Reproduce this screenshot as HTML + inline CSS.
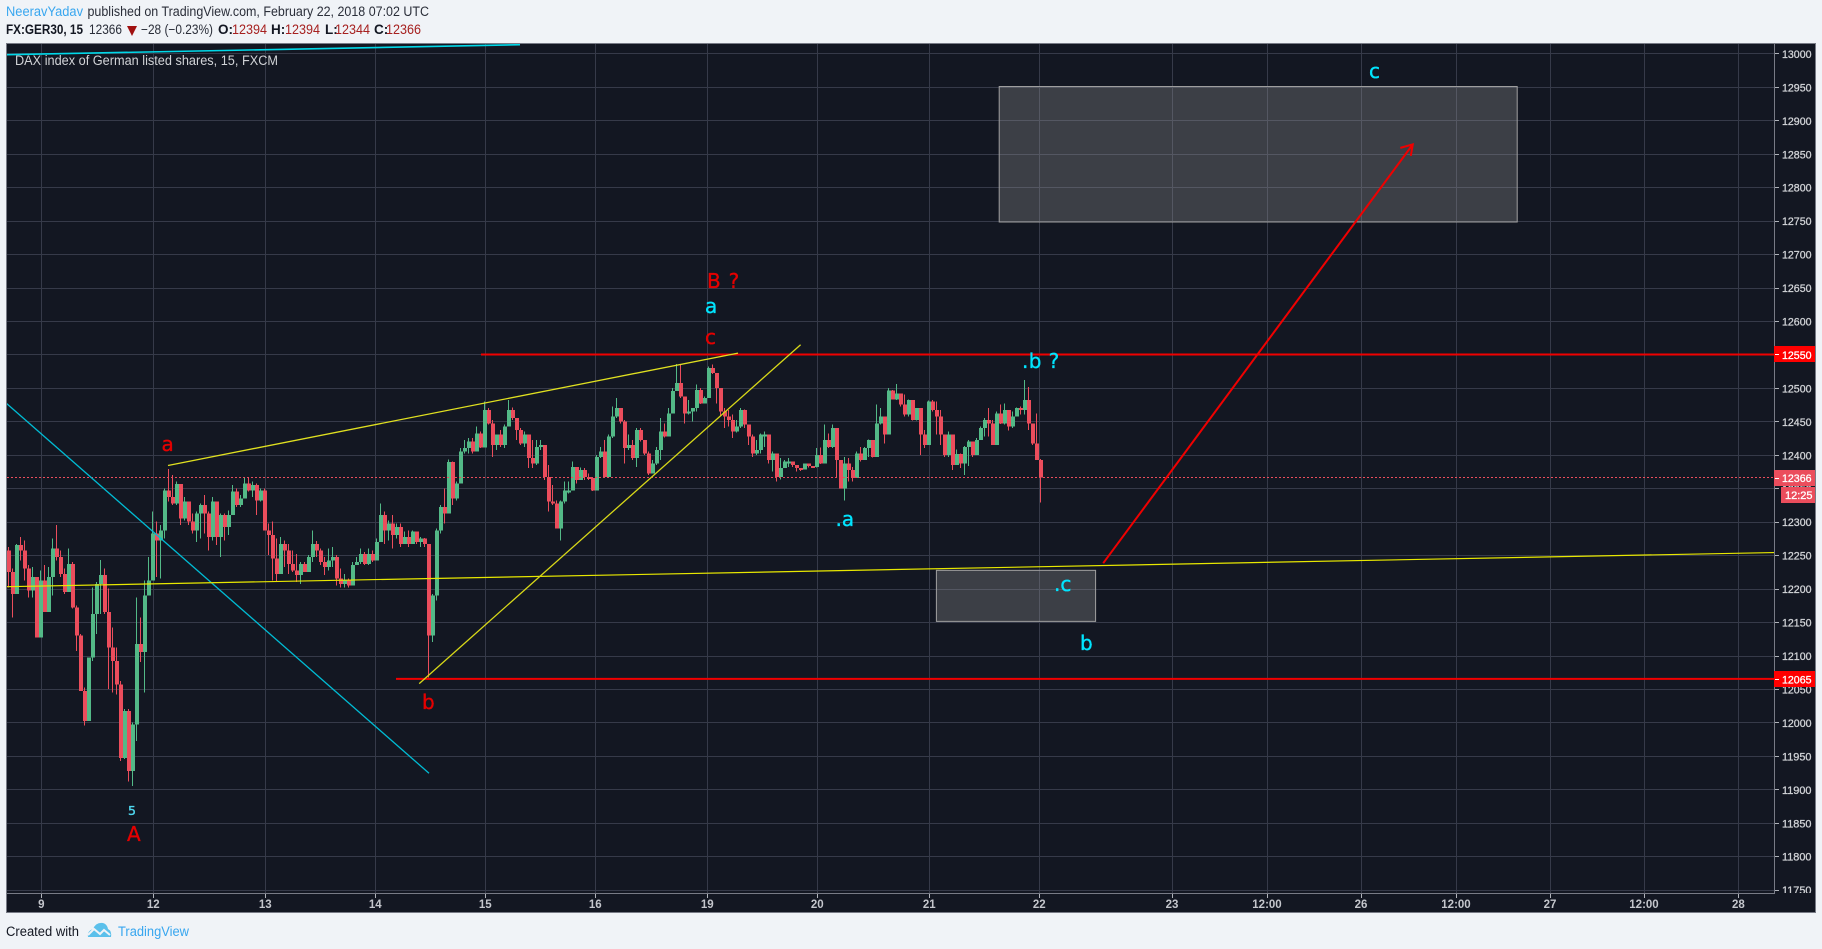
<!DOCTYPE html>
<html lang="en">
<head>
<meta charset="utf-8">
<title>DAX index of German listed shares, 15, FXCM</title>
<style>
html,body{margin:0;padding:0;background:#f0f3f7;width:1822px;height:949px;overflow:hidden}
svg{display:block;font-family:"Liberation Sans",sans-serif}
.ann{font-family:"DejaVu Sans","Liberation Sans",sans-serif;font-size:20px;stroke-width:0.35px}
</style>
</head>
<body>
<svg id="root" xmlns="http://www.w3.org/2000/svg" width="1822" height="949" viewBox="0 0 1822 949">
  <defs>
    <clipPath id="plot-clip"><rect x="7" y="44" width="1767" height="849"/></clipPath>
    <clipPath id="price-clip"><rect x="1775" y="44" width="40" height="849"/></clipPath>
  </defs>
  <rect x="0" y="0" width="1822" height="949" fill="#f0f3f7"/>

  <text x="6" y="16" font-size="13.5" fill="#37a6ef" textLength="77" lengthAdjust="spacingAndGlyphs">NeeravYadav</text>
  <text x="87.5" y="16" font-size="13.5" fill="#2a2e39" textLength="341.5" lengthAdjust="spacingAndGlyphs">published on TradingView.com, February 22, 2018 07:02 UTC</text>

  <g font-size="13.5">
    <text x="6" y="34" font-weight="700" fill="#131722" textLength="77" lengthAdjust="spacingAndGlyphs">FX:GER30, 15</text>
    <text x="89" y="34" fill="#2a2e39" textLength="33" lengthAdjust="spacingAndGlyphs">12366</text>
    <polygon points="127,26 137,26 132,36" fill="#a01010"/>
    <text x="141" y="34" fill="#2a2e39" textLength="72" lengthAdjust="spacingAndGlyphs">−28 (−0.23%)</text>
    <text x="218" y="34" font-weight="700" fill="#131722">O:</text>
    <text x="232" y="34" fill="#a6201f" textLength="35" lengthAdjust="spacingAndGlyphs">12394</text>
    <text x="271" y="34" font-weight="700" fill="#131722">H:</text>
    <text x="285" y="34" fill="#a6201f" textLength="35" lengthAdjust="spacingAndGlyphs">12394</text>
    <text x="325" y="34" font-weight="700" fill="#131722">L:</text>
    <text x="335" y="34" fill="#a6201f" textLength="35" lengthAdjust="spacingAndGlyphs">12344</text>
    <text x="374" y="34" font-weight="700" fill="#131722">C:</text>
    <text x="386" y="34" fill="#a6201f" textLength="35" lengthAdjust="spacingAndGlyphs">12366</text>
  </g>

  <rect x="6.5" y="43.5" width="1809" height="869" fill="#131722" stroke="#787b86" stroke-width="1"/>

  <g id="grid"></g>
  <g id="zones" clip-path="url(#plot-clip)"></g>
  <g id="candles" clip-path="url(#plot-clip)" shape-rendering="crispEdges"></g>
  <g id="drawings" clip-path="url(#plot-clip)"></g>

  <text x="15" y="65" font-size="13.5" fill="#d0d2d6" textLength="263" lengthAdjust="spacingAndGlyphs">DAX index of German listed shares, 15, FXCM</text>

  <g class="ann">
    <text x="161.5" y="451" fill="#e50000" stroke="#e50000">a</text>
    <text x="422" y="709" fill="#e50000" stroke="#e50000">b</text>
    <text x="128" y="815" fill="#4fd8f0" stroke="#4fd8f0" style="font-size:12.5px">5</text>
    <text x="127" y="841" fill="#e50000" stroke="#e50000">A</text>
    <text x="707" y="288" fill="#e50000" stroke="#e50000" letter-spacing="0.8">B ?</text>
    <text x="705" y="313" fill="#00e5ff" stroke="#00e5ff">a</text>
    <text x="705" y="344" fill="#e50000" stroke="#e50000">c</text>
    <text x="835.5" y="526" fill="#00e5ff" stroke="#00e5ff">.a</text>
    <text x="1022" y="368" fill="#00e5ff" stroke="#00e5ff" letter-spacing="0.4">.b ?</text>
    <text x="1054" y="591" fill="#00e5ff" stroke="#00e5ff">.c</text>
    <text x="1080" y="650" fill="#00e5ff" stroke="#00e5ff">b</text>
    <text x="1369" y="78" fill="#00e5ff" stroke="#00e5ff">c</text>
  </g>

  <line x1="1774.5" y1="44" x2="1774.5" y2="893" stroke="#787b86"/>
  <line x1="7" y1="893.5" x2="1775" y2="893.5" stroke="#787b86"/>
  <g id="price-axis" clip-path="url(#price-clip)"></g>
  <g id="time-axis"></g>
  <g id="price-tags"></g>

  <g>
    <text x="6" y="936" font-size="13.5" fill="#131722" textLength="73" lengthAdjust="spacingAndGlyphs">Created with</text>
    <g>
      <path d="M88 937 Q87 931 93 929 Q96 922 103 923 Q107 924 108 929 Q112 931 111 937 Z" fill="#5bc0eb"/>
      <polyline points="88,935 94,929 100,934 104,930 110,935" fill="none" stroke="#f0f3f7" stroke-width="2"/>
    </g>
    <text x="118" y="936" font-size="13.5" fill="#37a6ef" textLength="71" lengthAdjust="spacingAndGlyphs">TradingView</text>
  </g>
</svg>

<script>
// ---- price data: one entry per plotted candle ----
const firstOpen = 12257;
const closes = [
12225,12192,12265,12257,12230,12197,12217,12127,12212,12165,
12217,12260,12247,12222,12195,12237,12172,12130,12047,12002,
12097,12162,12207,12220,12165,12112,12092,12057,11947,12017,
11927,11997,12117,12105,12190,12212,12282,12272,12287,12347,
12337,12327,12356,12305,12330,12300,12287,12312,12325,12312,
12277,12330,12277,12310,12292,12310,12345,12325,12335,12357,
12347,12355,12332,12347,12287,12280,12245,12222,12267,12257,
12237,12227,12220,12237,12225,12247,12267,12257,12240,12232,
12242,12247,12215,12207,12212,12205,12235,12240,12252,12237,
12252,12242,12270,12310,12287,12297,12280,12292,12267,12277,
12267,12285,12270,12275,12267,12130,12190,12287,12322,12312,
12389,12335,12357,12405,12410,12420,12405,12432,12411,12467,
12447,12415,12430,12415,12442,12467,12455,12437,12417,12430,
12395,12387,12412,12415,12367,12330,12327,12290,12330,12347,
12347,12382,12362,12377,12367,12365,12347,12397,12405,12367,
12427,12457,12470,12450,12410,12415,12395,12437,12422,12402,
12372,12387,12407,12435,12427,12462,12495,12507,12487,12462,
12465,12470,12497,12477,12485,12530,12522,12500,12465,12457,
12452,12435,12442,12467,12445,12427,12402,12407,12430,12430,
12392,12402,12367,12380,12390,12390,12385,12380,12378,12387,
12383,12382,12400,12387,12422,12412,12440,12392,12350,12387,
12377,12365,12402,12392,12410,12422,12397,12447,12457,12430,
12496,12483,12492,12475,12460,12482,12452,12470,12430,12415,
12480,12467,12457,12430,12400,12430,12385,12401,12387,12412,
12420,12400,12422,12440,12452,12447,12415,12462,12447,12467,
12442,12457,12470,12467,12482,12447,12417,12392,12366];
const highs = [
12262,12230,12267,12277,12272,12235,12232,12217,12227,12235,
12232,12275,12295,12257,12230,12260,12240,12175,12132,12052,
12097,12202,12210,12243,12230,12200,12142,12112,12062,12020,
12020,12000,12187,12157,12212,12247,12315,12300,12295,12350,
12379,12370,12360,12356,12337,12325,12312,12315,12327,12340,
12315,12337,12330,12312,12312,12317,12355,12350,12340,12367,
12367,12360,12357,12350,12350,12297,12300,12275,12277,12272,
12267,12257,12252,12240,12240,12250,12287,12271,12260,12247,
12260,12262,12250,12230,12222,12215,12240,12247,12260,12255,
12260,12257,12275,12327,12315,12302,12310,12297,12297,12285,
12287,12287,12285,12277,12276,12267,12192,12290,12325,12350,
12393,12390,12360,12410,12422,12425,12425,12442,12435,12480,
12470,12452,12430,12437,12445,12482,12471,12455,12440,12435,
12430,12422,12422,12422,12415,12385,12355,12332,12332,12360,
12360,12390,12382,12381,12380,12372,12367,12400,12412,12422,
12430,12472,12485,12467,12452,12430,12422,12440,12440,12420,
12405,12392,12412,12455,12447,12470,12500,12536,12535,12487,
12482,12470,12505,12500,12487,12532,12535,12515,12500,12470,
12467,12460,12452,12470,12468,12445,12430,12422,12432,12435,
12417,12405,12402,12395,12392,12395,12390,12383,12380,12387,
12387,12383,12410,12411,12445,12432,12445,12432,12392,12397,
12395,12382,12405,12412,12412,12423,12417,12475,12470,12457,
12500,12497,12506,12492,12490,12483,12480,12470,12462,12437,
12481,12482,12480,12467,12430,12435,12430,12408,12402,12413,
12422,12417,12425,12442,12455,12470,12452,12465,12475,12477,
12452,12465,12471,12472,12512,12501,12447,12462,12394];
const lows = [
12202,12157,12197,12242,12212,12187,12187,12127,12127,12165,
12165,12190,12242,12217,12192,12202,12170,12107,12047,11995,
12002,12092,12132,12162,12162,12050,12045,12042,11942,11945,
11912,11905,11972,12090,12045,12190,12212,12217,12215,12275,
12330,12325,12325,12295,12302,12295,12282,12270,12275,12282,
12257,12272,12265,12247,12272,12280,12310,12322,12322,12335,
12345,12337,12310,12330,12287,12250,12212,12210,12237,12232,
12222,12225,12210,12207,12225,12225,12240,12247,12235,12220,
12227,12232,12205,12202,12202,12202,12205,12235,12237,12235,
12235,12240,12242,12270,12267,12272,12260,12275,12262,12272,
12262,12267,12267,12262,12262,12067,12120,12182,12282,12297,
12315,12325,12332,12375,12402,12402,12402,12417,12410,12412,
12445,12397,12407,12412,12410,12442,12452,12422,12415,12412,
12380,12380,12385,12407,12362,12315,12325,12290,12272,12327,
12342,12347,12357,12362,12362,12362,12346,12347,12395,12366,
12366,12425,12455,12447,12387,12407,12392,12382,12420,12400,
12370,12372,12385,12392,12426,12427,12462,12495,12485,12447,
12460,12450,12465,12476,12477,12485,12521,12477,12457,12440,
12442,12425,12433,12440,12440,12415,12397,12400,12402,12412,
12387,12375,12360,12363,12380,12382,12382,12375,12376,12378,
12381,12380,12381,12386,12395,12410,12410,12367,12350,12332,
12360,12360,12375,12390,12397,12397,12396,12397,12445,12417,
12430,12483,12482,12472,12457,12457,12451,12451,12400,12410,
12430,12465,12430,12415,12397,12397,12377,12385,12380,12370,
12383,12397,12402,12422,12427,12427,12415,12415,12446,12445,
12436,12440,12457,12460,12460,12437,12415,12392,12329];

// ---- axis values ----
const priceTicks = [13000,12950,12900,12850,12800,12750,12700,12650,12600,12550,12500,12450,12400,12350,12300,12250,12200,12150,12100,12050,12000,11950,11900,11850,11800,11750];
const timeLabels = ['9','12','13','14','15','16','19','20','21','22','23','12:00','26','12:00','27','12:00','28'];
const timeBars = [8.33,36.33,64.33,91.83,119.33,146.83,174.83,202.33,230.33,257.83,291,314.75,338.25,362,385.5,409,432.6];

// ---- drawing values, in bar index and price ----
const lastPrice = 12366;
const levelPrices = [12550,12065];
const levelStartBars = [118.25,97];
const cyanTopBars = [-0.5,128];
const cyanTopPrices = [12998,13013];
const cyanDiagBars = [-0.5,105.25];
const cyanDiagPrices = [12477.5,11924];
const yellowBaseBars = [-0.5,441.5];
const yellowBasePrices = [12202.8,12253.9];
const yellowUpperBars = [40,182.5];
const yellowUpperPrices = [12384,12552];
const yellowLowerBars = [102.8,198.15];
const yellowLowerPrices = [12058,12564.5];
const arrowBars = [273.8,351.2];
const arrowPrices = [12238,12864];
const zoneBars = [[247.8,377.3],[232.1,271.9]];
const zonePrices = [[12950.5,12748],[12227.3,12151]];
const countdownLabel = '12:25';

const NS = 'http://www.w3.org/2000/svg';
function xOf(bar){ return 8 + 4*bar; }
function yOf(price){ return 53.4 + (13000 - price)*0.669; }
function crisp(v){ return Math.round(v) + 0.5; }
function make(tag, parent, attrs){
  const el = document.createElementNS(NS, tag);
  for (const k in attrs) el.setAttribute(k, attrs[k]);
  parent.appendChild(el);
  return el;
}

// grid
const grid = document.getElementById('grid');
priceTicks.forEach(function(p){
  const el = make('line', grid, {x1:7,x2:1774,y1:crisp(yOf(p)),y2:crisp(yOf(p)),stroke:'#363a49'});
  
  
});
timeBars.forEach(function(b){
  const el = make('line', grid, {x1:crisp(xOf(b)),x2:crisp(xOf(b)),y1:44,y2:893,stroke:'#363a49'});
  
  
});

// zones
const zones = document.getElementById('zones');
zoneBars.forEach(function(b,i){
  const top = yOf(zonePrices[i][0]);
  const bottom = yOf(zonePrices[i][1]);
  const el = make('rect', zones, {x:xOf(b[0]),y:top,width:xOf(b[1])-xOf(b[0]),height:bottom-top,fill:'rgba(155,155,155,0.3)',stroke:'#a0a0a0','stroke-width':1});
  
  
});

// candles
const candles = document.getElementById('candles');
closes.forEach(function(c,i){
  const o = i === 0 ? firstOpen : closes[i-1];
  const color = c >= o ? '#53b987' : '#eb4d5c';
  const px = Math.round(xOf(i));
  const wick = make('rect', candles, {x:px,y:yOf(highs[i]),width:1,height:Math.max(1,yOf(lows[i])-yOf(highs[i])),fill:color});
  
  
  const bodyTop = yOf(Math.max(o,c));
  const body = make('rect', candles, {x:px-1,y:bodyTop,width:4,height:Math.max(2,yOf(Math.min(o,c))-bodyTop),fill:color});
  
  
});

// drawings
const drawings = document.getElementById('drawings');
function trend(bars, prices, color, width, name){
  const el = make('line', drawings, {x1:xOf(bars[0]),y1:yOf(prices[0]),x2:xOf(bars[1]),y2:yOf(prices[1]),stroke:color,'stroke-width':width});
  
  
  return el;
}
const lastLine = make('line', drawings, {x1:7,x2:1774,y1:yOf(lastPrice),y2:yOf(lastPrice),stroke:'#eb4d5c','stroke-dasharray':'2 2'});


levelPrices.forEach(function(p,i){
  const el = make('line', drawings, {x1:xOf(levelStartBars[i]),x2:1774,y1:yOf(p),y2:yOf(p),stroke:'#f00000','stroke-width':2});
  
  
});
trend(cyanTopBars, cyanTopPrices, '#00d8e8', 1.6, 'cyan-top-trendline');
trend(cyanDiagBars, cyanDiagPrices, '#00bcd4', 1.3, 'cyan-down-trendline');
trend(yellowBaseBars, yellowBasePrices, '#e8e800', 1.2, 'yellow-base-trendline');
trend(yellowUpperBars, yellowUpperPrices, '#e0e020', 1.3, 'yellow-upper-trendline');
trend(yellowLowerBars, yellowLowerPrices, '#d8d818', 1.3, 'yellow-lower-trendline');
trend(arrowBars, arrowPrices, '#f00000', 2, 'red-arrow-shaft');
const tipX = xOf(arrowBars[1]);
const tipY = yOf(arrowPrices[1]);
const head = make('polyline', drawings, {points:(tipX-12.5)+','+(tipY+3.5)+' '+tipX+','+tipY+' '+(tipX-2)+','+(tipY+11.5),fill:'none',stroke:'#f00000','stroke-width':2});



// price axis
const priceAxis = document.getElementById('price-axis');
priceTicks.forEach(function(p){
  const tick = make('line', priceAxis, {x1:1775,x2:1779,y1:crisp(yOf(p)),y2:crisp(yOf(p)),stroke:'#b0b3ba'});
  
  
  const label = make('text', priceAxis, {x:1782,y:yOf(p)+4.5,'font-size':11,fill:'#d0d2d6',stroke:'#d0d2d6','stroke-width':0.3,textLength:29.5,lengthAdjust:'spacingAndGlyphs'});
  
  
  label.textContent = String(p);
});

// time axis
const timeAxis = document.getElementById('time-axis');
timeLabels.forEach(function(t,i){
  const px = xOf(timeBars[i]);
  const tick = make('line', timeAxis, {x1:crisp(px),x2:crisp(px),y1:894,y2:898,stroke:'#b0b3ba'});
  
  
  const label = make('text', timeAxis, {x:px,y:908,'font-size':11.5,'font-weight':700,fill:'#c4c6cc','text-anchor':'middle'});
  
  
  label.textContent = t;
});

// price tags
const tags = document.getElementById('price-tags');
function priceTag(price, fill, name){
  const box = make('rect', tags, {x:1774,y:Math.round(yOf(price))-8,width:41,height:16,fill:fill});
  
  
  const label = make('text', tags, {x:1782,y:yOf(price)+4.5,'font-size':11,fill:'#ffffff',stroke:'#ffffff','stroke-width':0.3,textLength:29.5,lengthAdjust:'spacingAndGlyphs'});
  
  
  label.textContent = String(price);
  const tick = make('line', tags, {x1:1775,x2:1779,y1:crisp(yOf(price)),y2:crisp(yOf(price)),stroke:'#ffffff'});
  
  
}
priceTag(levelPrices[0], '#ff0000', 'level-12550-tag');
priceTag(levelPrices[1], '#ff0000', 'level-12065-tag');
priceTag(lastPrice, '#eb4d5c', 'last-price-tag');
const cdBox = make('rect', tags, {x:1781,y:487,width:34,height:16,fill:'#eb4d5c'});


const cdText = make('text', tags, {x:1785,y:499,'font-size':11,fill:'#ffffff',stroke:'#ffffff','stroke-width':0.3});


cdText.textContent = countdownLabel;
</script>
</body>
</html>
